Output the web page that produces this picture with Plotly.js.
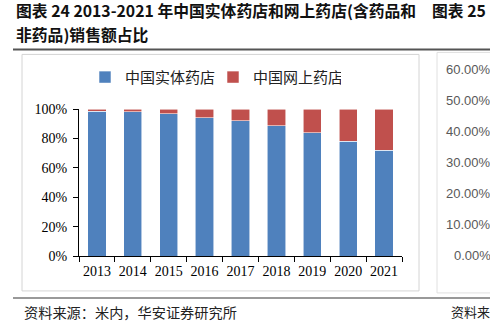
<!DOCTYPE html>
<html>
<head>
<meta charset="utf-8">
<script src="https://cdn.plot.ly/plotly-3.0.1.min.js"></script>
<style>html,body{margin:0;padding:0;background:#fff;}#chart{width:490px;height:322px;}</style>
</head>
<body>
<div id="chart"></div>
<script>
// ---- data ----
var years = ['2013','2014','2015','2016','2017','2018','2019','2020','2021'];
var physicalShare = [0.984, 0.980, 0.969, 0.942, 0.919, 0.887, 0.840, 0.779, 0.718];
var onlineShare   = [0.016, 0.020, 0.031, 0.058, 0.081, 0.113, 0.160, 0.221, 0.282];
var seriesNames = ['中国实体药店', '中国网上药店'];
var yTickVals = [0, 0.2, 0.4, 0.6, 0.8, 1.0];
var yTickText = ['0%', '20%', '40%', '60%', '80%', '100%'];
var rightTickLabels = ['60.00%', '50.00%', '40.00%', '30.00%', '20.00%', '10.00%', '0.00%'];
var titleLine1 = '图表 24 2013-2021 年中国实体药店和网上药店(含药品和';
var titleLine2 = '非药品)销售额占比';
var nextTitle = '图表 25';
var sourceText = '资料来源：米内，华安证券研究所';
var sourceTextRight = '资料来';

// ---- layout helpers (pixel -> paper) ----
var L = 79, R = 402, T = 108.7, B = 256;
function px(x){ return (x - L) / (R - L); }
function py(y){ return (B - y) / (B - T); }

var cjkBold = '"Noto Sans CJK SC", sans-serif';
var cjk = '"Noto Sans CJK SC", sans-serif';
var serif = '"Liberation Serif", "Times New Roman", serif';

var traces = [
  {type:'bar', x: years, y: physicalShare, name: seriesNames[0],
   marker:{color:'#4F81BD', line:{color:'rgba(255,255,255,0.7)', width:0.8}}},
  {type:'bar', x: years, y: onlineShare, name: seriesNames[1],
   marker:{color:'#C0504D', line:{color:'rgba(255,255,255,0.7)', width:0.8}}}
];

var annotations = [
  {text:'<b>'+titleLine1+'</b>', x:px(14), y:py(10), xref:'paper', yref:'paper', xanchor:'left', yanchor:'middle', showarrow:false, font:{family:cjkBold, size:15.8, color:'#111'}},
  {text:'<b>'+titleLine2+'</b>', x:px(14), y:py(34), xref:'paper', yref:'paper', xanchor:'left', yanchor:'middle', showarrow:false, font:{family:cjkBold, size:15.8, color:'#111'}},
  {text:'<b>'+nextTitle+'</b>', x:px(430), y:py(10), xref:'paper', yref:'paper', xanchor:'left', yanchor:'middle', showarrow:false, font:{family:cjkBold, size:15.8, color:'#111'}},
  {text:sourceText, x:px(22), y:py(312), xref:'paper', yref:'paper', xanchor:'left', yanchor:'middle', showarrow:false, font:{family:cjk, size:14.2, color:'#222'}},
  {text:sourceTextRight, x:px(449), y:py(312), xref:'paper', yref:'paper', xanchor:'left', yanchor:'middle', showarrow:false, font:{family:cjk, size:13, color:'#222'}}
];
var rightY = [69, 100, 131, 162, 193, 224, 255];
rightTickLabels.forEach(function(t, i){
  annotations.push({text:t, x:px(493), y:py(rightY[i]), xref:'paper', yref:'paper', xanchor:'right', yanchor:'middle', showarrow:false, font:{family:'"Liberation Sans", Arial, sans-serif', size:13, color:'#595959'}});
});

var shapes = [
  {type:'line', xref:'paper', yref:'paper', x0:px(13), x1:px(492), y0:py(49), y1:py(49), line:{color:'#555', width:2}},
  {type:'rect', xref:'paper', yref:'paper', x0:px(22), x1:px(419), y0:py(291), y1:py(54), line:{color:'#d4d4d4', width:1}},
  {type:'rect', xref:'paper', yref:'paper', x0:px(437), x1:px(520), y0:py(293), y1:py(52), line:{color:'#e0e0e0', width:1}},
  {type:'line', xref:'paper', yref:'paper', x0:px(13), x1:px(492), y0:py(298), y1:py(298), line:{color:'#777', width:1.5}}
];

var layout = {
  width:490, height:322,
  margin:{l:L, r:490-R, t:T, b:322-B, pad:0},
  paper_bgcolor:'#fff', plot_bgcolor:'#fff',
  barmode:'stack', bargap:0.49,
  showlegend:true,
  legend:{orientation:'h', traceorder:'normal', x:px(85), y:py(77), xanchor:'left', yanchor:'middle',
          font:{family:cjk, size:15, color:'#222'}, entrywidth:83, entrywidthmode:'pixels',
          itemclick:false, bgcolor:'rgba(0,0,0,0)'},
  xaxis:{type:'category', showline:true, linecolor:'#000', linewidth:1, ticks:'outside', tickson:'boundaries',
         ticklen:5, tickcolor:'#000', showgrid:false, zeroline:false, tickangle:0, ticklabelstandoff:2,
         tickfont:{family:serif, size:14, color:'#000'}, fixedrange:true},
  yaxis:{range:[0,1], showline:true, linecolor:'#000', linewidth:1, ticks:'outside', ticklen:5, tickcolor:'#000',
         tickvals:yTickVals, ticktext:yTickText, showgrid:false, zeroline:false, ticklabelstandoff:3,
         tickfont:{family:serif, size:14, color:'#000'}, fixedrange:true},
  annotations:annotations,
  shapes:shapes
};

Plotly.newPlot('chart', traces, layout, {displayModeBar:false, staticPlot:true});
</script>
</body>
</html>
